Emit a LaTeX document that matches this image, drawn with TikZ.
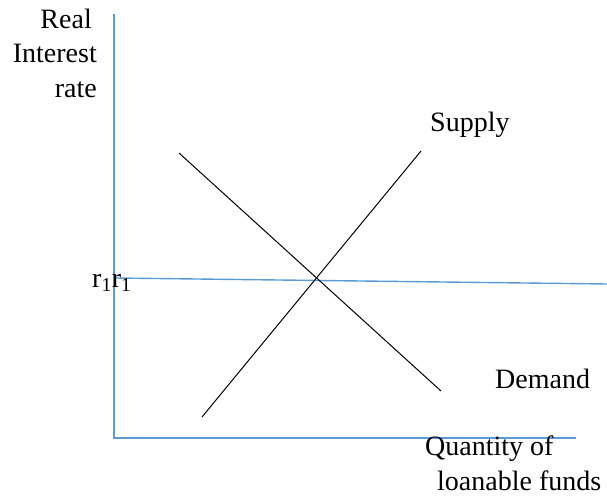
\documentclass[tikz,border=0pt]{standalone}
\usepackage{fontspec}
\setmainfont{Liberation Serif}
\definecolor{axisblue}{RGB}{91,155,213}
\begin{document}
\begin{tikzpicture}[x=1pt,y=-1pt,
  axis/.style={draw=axisblue,line width=1.4pt},
  axisbar/.style={fill=axisblue},
  curve/.style={draw=black,line width=1pt},
  lbl/.style={inner sep=0pt,font=\fontsize{28}{34}\selectfont}]
\useasboundingbox (0,0) rectangle (607,495);
% axes
\coordinate (ytop) at (113,14);
\coordinate (orig) at (113,437);
\coordinate (xend) at (576,437);
\fill[axisbar] (ytop) rectangle ([shift={(1.5,1.5)}]orig);
\fill[axisbar] (orig) rectangle ([shift={(0,1.5)}]xend);
% r1 line
\coordinate (rl) at (115,278);
\coordinate (rr) at (607,284);
\draw[axis] (rl) -- (rr);
% supply and demand
\coordinate (s1) at (202,417);
\coordinate (s2) at (421,151);
\coordinate (d1) at (179,153);
\coordinate (d2) at (441,391);
\draw[curve] (s1) -- (s2);
\draw[curve] (d1) -- (d2);
% labels
\node[lbl,anchor=base east] (l1) at (92,29) {Real};
\node[lbl,anchor=base east] (l2) at (97,63) {Interest};
\node[lbl,anchor=base east] (l3) at (97,97) {rate};
\node[lbl,anchor=base west] (r1) at (92,287) {r\textsubscript{1}r\textsubscript{1}};
\node[lbl,anchor=base west] (sup) at (430,131) {Supply};
\node[lbl,anchor=base west] (dem) at (495,388) {Demand};
\node[lbl,anchor=base west] (q1) at (425,455) {Quantity of};
\node[lbl,anchor=base west] (q2) at (437,490) {loanable funds};
\end{tikzpicture}
\end{document}
